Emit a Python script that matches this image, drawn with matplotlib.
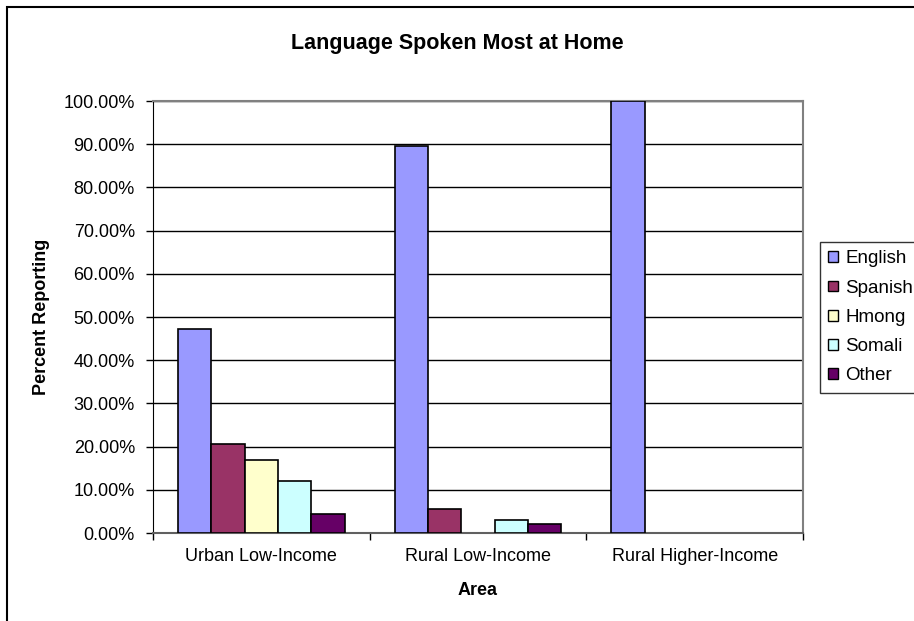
import matplotlib.pyplot as plt
import numpy as np
from matplotlib.patches import Rectangle
from matplotlib.ticker import PercentFormatter

plt.rcParams['font.family'] = ['Liberation Sans', 'DejaVu Sans']

areas = ["Urban Low-Income", "Rural Low-Income", "Rural Higher-Income"]
languages = ["English", "Spanish", "Hmong", "Somali", "Other"]
english = [47.3, 89.6, 100.0]
spanish = [20.7, 5.6, 0.0]
hmong = [16.8, 0.0, 0.0]
somali = [12.0, 3.1, 0.0]
other = [4.3, 2.1, 0.0]
colors = ["#9999FF", "#993366", "#FFFFCC", "#CCFFFF", "#660066"]

W, H = 914, 621
fig = plt.figure(figsize=(W / 100, H / 100), dpi=100)

# chart border (runs past the right and bottom edges)
fig.patches.append(Rectangle((7 / W, -0.05), 1.1, 1 - 7 / H + 0.05,
                             transform=fig.transFigure, fill=False,
                             edgecolor='black', linewidth=1.5, clip_on=False))

ax = fig.add_axes([153 / W, (H - 533) / H, 650 / W, 432 / H])

series = [english, spanish, hmong, somali, other]
x = np.arange(len(areas))
bw = 1 / 6.5
for i, (vals, lang, c) in enumerate(zip(series, languages, colors)):
    # empty bars get no outline
    lw = [1.2 if v > 0 else 0 for v in vals]
    ax.bar(x - 2 * bw + i * bw, vals, width=bw, color=c, edgecolor='black',
           linewidth=lw, label=lang, zorder=3)

ax.set_xlim(-0.5, 2.5)
ax.set_ylim(0, 100)
ax.set_yticks(np.arange(0, 101, 10))
ax.yaxis.set_major_formatter(PercentFormatter(decimals=2))
ax.set_xticks(x)
ax.set_xticklabels(areas)
ax.set_xticks([-0.5, 0.5, 1.5, 2.5], minor=True)
ax.tick_params(axis='x', which='major', length=0, pad=11, labelsize=13)
ax.tick_params(axis='x', which='minor', length=5, width=1)
ax.tick_params(axis='y', length=5, width=1, labelsize=13, pad=8)
ax.grid(axis='y', color='black', linewidth=1, zorder=0)

for s in ['top', 'right']:
    ax.spines[s].set_color('#808080')
    ax.spines[s].set_linewidth(1.5)
ax.spines['left'].set_color('black')
ax.spines['bottom'].set_color('#606060')
ax.spines['bottom'].set_linewidth(1.5)

ax.set_xlabel('Area', fontsize=13, fontweight='bold', labelpad=12)
ax.set_ylabel('Percent Reporting', fontsize=13, fontweight='bold', labelpad=10)
fig.text(457 / W, 1 - 43 / H, 'Language Spoken Most at Home', ha='center',
         va='center', fontsize=15.5, fontweight='bold')

handles, labels = ax.get_legend_handles_labels()
leg = fig.legend(handles, labels, loc='upper left',
                 bbox_to_anchor=(820 / W, 1 - 242 / H),
                 fontsize=13.5, frameon=True, fancybox=False, handlelength=0.5,
                 handleheight=0.5, handletextpad=0.4, borderpad=0.45,
                 labelspacing=0.65, borderaxespad=0)
leg.get_frame().set_edgecolor('black')
leg.get_frame().set_linewidth(1)
for p in leg.get_patches():
    p.set_linewidth(1)

fig.savefig('out.png', dpi=100)
